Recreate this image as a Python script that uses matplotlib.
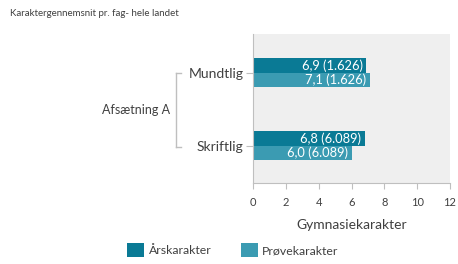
import matplotlib
matplotlib.use("Agg")
import matplotlib.pyplot as plt
from matplotlib.patches import Patch
import numpy as np

plt.rcParams['font.family'] = ['Lato', 'DejaVu Sans']

title = "Karaktergennemsnit pr. fag- hele landet"
group = "Afsætning A"
categories = ["Mundtlig", "Skriftlig"]
series_names = ["Årskarakter", "Prøvekarakter"]
aars = [6.9, 6.8]
proeve = [7.1, 6.0]
counts = ["1.626", "6.089"]
xticks = [0, 2, 4, 6, 8, 10, 12]
xlabel = "Gymnasiekarakter"

c_aars = "#0a7a95"
c_proeve = "#3b9bb2"
txt = "#404040"
grid_c = "#bfbfbf"

W, H = 458, 264
fig = plt.figure(figsize=(W / 100, H / 100), dpi=100)
ax = fig.add_axes([253 / W, 1 - 183 / H, 197 / W, 149 / H])
ax.set_facecolor("#efefef")

y = np.arange(len(categories))
bh = 0.2
b1 = ax.barh(y - bh / 2, aars, height=bh, color=c_aars)
b2 = ax.barh(y + bh / 2, proeve, height=bh, color=c_proeve)

def fmt(v):
    return f"{v:.1f}".replace(".", ",")

for bars, vals in ((b1, aars), (b2, proeve)):
    for rect, v, n in zip(bars, vals, counts):
        ax.text(v - 0.2, rect.get_y() + rect.get_height() / 2, f"{fmt(v)} ({n})",
                ha="right", va="center", color="white", fontsize=9.3)

ax.set_xlim(0, 12)
ax.set_ylim(1.51, -0.53)
ax.set_xticks(xticks)
ax.set_xticklabels([str(t) for t in xticks], fontsize=8, color=txt)
ax.set_yticks(y)
ax.set_yticklabels(categories, fontsize=10, color=txt)
ax.tick_params(axis="x", length=4, color=grid_c, pad=6)
ax.tick_params(axis="y", length=5, color=grid_c, pad=2)
for s in ("top", "right"):
    ax.spines[s].set_visible(False)
ax.spines["left"].set_color(grid_c)
ax.spines["bottom"].set_color(grid_c)
ax.set_xlabel(xlabel, fontsize=10, color=txt, labelpad=8)

# group bracket
fig.add_artist(plt.Line2D([176 / W, 176 / W], [1 - 73 / H, 1 - 147 / H], color=grid_c, lw=1))
fig.add_artist(plt.Line2D([176 / W, 181 / W], [1 - 73 / H, 1 - 73 / H], color=grid_c, lw=1))
fig.add_artist(plt.Line2D([176 / W, 181 / W], [1 - 147 / H, 1 - 147 / H], color=grid_c, lw=1))
fig.text(170 / W, 1 - 110 / H, group, ha="right", va="center", fontsize=9, color=txt)

fig.text(10 / W, 1 - 14 / H, title, ha="left", va="center", fontsize=7, color=txt)

handles = [Patch(facecolor=c_aars), Patch(facecolor=c_proeve)]
fig.legend(handles, series_names, loc="center", bbox_to_anchor=(233 / W, 1 - 250 / H),
           ncol=2, frameon=False, fontsize=8.8, handlelength=1.4, handleheight=1.4,
           handletextpad=0.35, columnspacing=2.4, labelcolor=txt)

fig.savefig("out.png", dpi=100)
